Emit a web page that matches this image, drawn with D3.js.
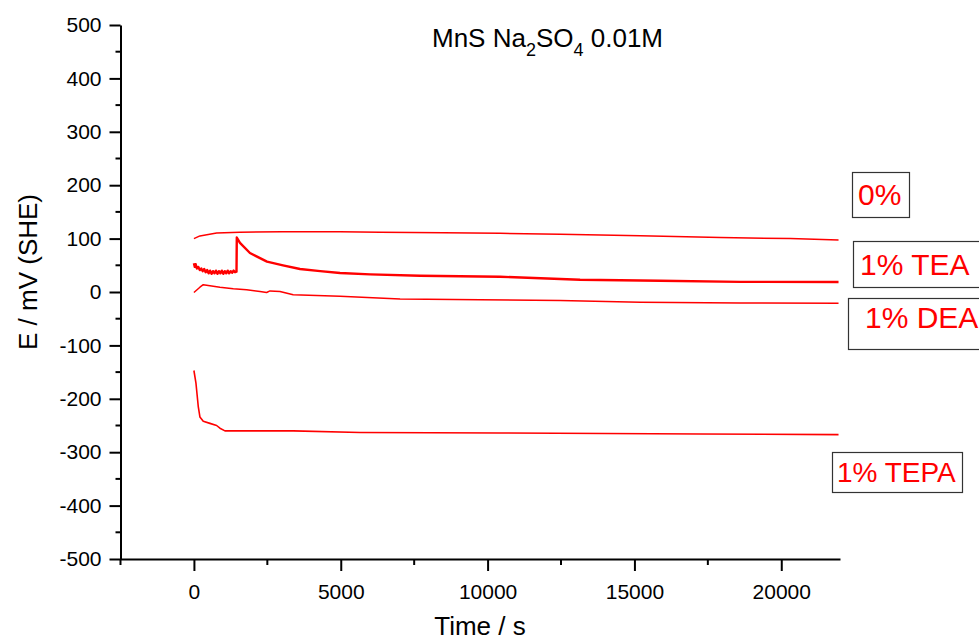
<!DOCTYPE html>
<html><head><meta charset="utf-8">
<script src="https://cdn.jsdelivr.net/npm/d3@7"></script>
<style>
html,body{margin:0;padding:0;background:#fff;}
svg{display:block;font-family:"Liberation Sans",Arial,sans-serif;}
</style></head>
<body>
<svg id="chart" width="979" height="641"></svg>
<script>
// ---- data (time in s, potential in mV vs SHE) ----
const xTicks = [0, 5000, 10000, 15000, 20000];
const yTicks = [500, 400, 300, 200, 100, 0, -100, -200, -300, -400, -500];

const t0 = [0, 204, 773, 1568, 3000, 4976, 6340, 8500, 10430, 12470, 15200, 17930, 20310, 21950];
const v0 = [100, 105, 110.5, 112, 113, 113, 112, 111, 110, 108, 105.5, 102, 100, 97.5];

const tTEA = [0, 30, 60, 100, 150, 200, 250, 300, 350, 400, 450, 500, 550, 600, 650, 700, 750, 800, 850, 900, 950, 1000, 1050, 1100, 1150, 1200, 1250, 1300, 1350, 1400, 1450, 1460, 1568, 1908, 2488, 3033, 3612, 4300, 4976, 6000, 7700, 10430, 13150, 15880, 18600, 21950];
const vTEA = [54, 47, 52, 44, 47, 41, 44, 39, 43, 37, 41, 35, 40, 34, 39, 35, 40, 34, 39, 35, 40, 34, 39, 35, 40, 35, 39, 36, 40, 37, 38, 102, 92, 73, 57, 50, 43, 39, 35.6, 33, 30.5, 28.6, 23, 21, 19, 18.7];

const tDEA = [0, 204, 318, 545, 886, 1340, 1795, 2250, 2476, 2590, 2930, 3380, 4976, 7020, 9750, 12470, 15200, 18600, 21950];
const vDEA = [-1, 9, 13.7, 11.8, 9, 6, 4, 1, -1, 2, 1, -5, -8, -13, -14.4, -16, -19, -20.6, -21];

const tTEPA = [0, 68, 147, 204, 318, 545, 773, 886, 1057, 3380, 5660, 10430, 17250, 21950];
const vTEPA = [-147, -170, -214, -234, -242, -246, -250, -255, -260, -260, -263, -264, -266, -267];

const seriesNames = ["0%", "1% TEA", "1% DEA", "1% TEPA"];

// ---- drawing ----
const svg = d3.select("#chart");
const x = d3.scaleLinear().domain([-2500, 22000]).range([120.5, 840]);
const y = d3.scaleLinear().domain([-500, 500]).range([559, 25]);
const red = "#ff0000";
const FONT = "Liberation Sans, Arial, sans-serif";

const series = [
  {t: t0, v: v0, w: 1.5},
  {t: tTEA, v: vTEA, w: 2.4},
  {t: tDEA, v: vDEA, w: 1.5},
  {t: tTEPA, v: vTEPA, w: 1.6}
];
const line = d3.line().x(d => x(d[0])).y(d => y(d[1]));
series.forEach(s => {
  svg.append("path")
    .attr("d", line(s.t.map((tt, i) => [tt, s.v[i]])))
    .attr("fill", "none").attr("stroke", red).attr("stroke-width", s.w)
    .attr("stroke-linejoin", "round");
});

const plain = d => String(d);

// x axis
const xMinor = d3.range(-2500, 22001, 2500).filter(v => !xTicks.includes(v));
const gx = svg.append("g").attr("transform", `translate(0,${y(-500)})`);
gx.call(d3.axisBottom(x).tickValues(xTicks).tickSizeInner(12).tickSizeOuter(0).tickPadding(8).tickFormat(plain));
gx.selectAll(".tick text").attr("font-size", 21).attr("font-family", FONT).attr("fill", "#000").attr("dy", "0.95em");
gx.select(".domain").attr("stroke", "#000").attr("stroke-width", 2);
gx.selectAll(".tick line").attr("stroke", "#000").attr("stroke-width", 2);
gx.selectAll(".minor").data(xMinor).enter().append("line")
  .attr("x1", d => x(d)).attr("x2", d => x(d)).attr("y1", 0).attr("y2", 6)
  .attr("stroke", "#000").attr("stroke-width", 2);

// y axis
const yMinor = d3.range(-450, 500, 100);
const gy = svg.append("g").attr("transform", `translate(${x(-2500)},0)`);
gy.call(d3.axisLeft(y).tickValues(yTicks).tickSizeInner(11).tickSizeOuter(0).tickPadding(8).tickFormat(plain));
gy.selectAll(".tick text").attr("font-size", 21).attr("font-family", FONT).attr("fill", "#000");
gy.select(".domain").attr("stroke", "#000").attr("stroke-width", 2);
gy.selectAll(".tick line").attr("stroke", "#000").attr("stroke-width", 2);
gy.selectAll(".minor").data(yMinor).enter().append("line")
  .attr("x1", -5).attr("x2", 0).attr("y1", d => y(d)).attr("y2", d => y(d))
  .attr("stroke", "#000").attr("stroke-width", 2);

// axis titles
svg.append("text").attr("x", 480).attr("y", 635).attr("text-anchor", "middle")
  .attr("font-size", 26).attr("fill", "#000").text("Time / s");
svg.append("text").attr("transform", "translate(37,272) rotate(-90)").attr("text-anchor", "middle")
  .attr("font-size", 26).attr("fill", "#000").text("E / mV (SHE)");

// title
const title = svg.append("text").attr("x", 432).attr("y", 47).attr("font-size", 26).attr("fill", "#000");
title.append("tspan").text("MnS Na");
title.append("tspan").attr("font-size", 18).attr("dy", 9).text("2");
title.append("tspan").attr("dy", -9).text("SO");
title.append("tspan").attr("font-size", 18).attr("dy", 9).text("4");
title.append("tspan").attr("dy", -9).text(" 0.01M");

// series labels in boxes
const boxes = [
  {rx: 852, ry: 172, rw: 57, rh: 45, tx: 858, ty: 205, fs: 30},
  {rx: 853, ry: 241, rw: 140, rh: 46, tx: 860, ty: 275, fs: 30},
  {rx: 848, ry: 298, rw: 150, rh: 51, tx: 865, ty: 328, fs: 30},
  {rx: 832, ry: 452, rw: 130, rh: 40, tx: 837, ty: 482, fs: 28}
];
boxes.forEach((b, i) => {
  svg.append("rect").attr("x", b.rx + 0.5).attr("y", b.ry + 0.5).attr("width", b.rw).attr("height", b.rh)
    .attr("fill", "#fff").attr("stroke", "#333").attr("stroke-width", 1.2);
  svg.append("text").attr("x", b.tx).attr("y", b.ty).attr("font-size", b.fs).attr("fill", red).text(seriesNames[i]);
});
</script>
</body></html>
